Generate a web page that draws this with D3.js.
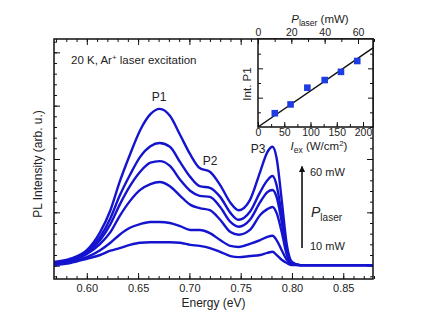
<!DOCTYPE html>
<html>
<head>
<meta charset="utf-8">
<script src="https://cdn.jsdelivr.net/npm/d3@7"></script>
<style>
  body { margin: 0; background: #fff; }
  svg text { font-family: "Liberation Sans", Arial, sans-serif; fill: #222; }
</style>
</head>
<body>
<div id="chart"></div>
<script>
// photon energy (eV) sampled along the spectra
const energy = [0.568, 0.584, 0.600, 0.613, 0.623, 0.632, 0.642, 0.652, 0.662, 0.671,
  0.681, 0.691, 0.701, 0.710, 0.720, 0.730, 0.740, 0.748, 0.759, 0.769,
  0.776, 0.781, 0.785, 0.790, 0.795, 0.800, 0.808, 0.879]

// PL intensity (arb. u.) for each laser power, 60 mW down to 10 mW
const pl60 = [0.07, 0.13, 0.29, 0.63, 1.04, 1.57, 2.08, 2.54, 2.84, 2.94, 2.81, 2.45, 2.08, 1.83,
  1.76, 1.51, 1.18, 1.04, 1.23, 1.76, 2.13, 2.23, 2.02, 1.23, 0.39, 0.07, 0.01, 0.01]
const pl50 = [0.05, 0.11, 0.26, 0.54, 0.89, 1.31, 1.70, 2.04, 2.24, 2.30, 2.23, 1.94, 1.66, 1.49,
  1.46, 1.29, 0.99, 0.86, 1.01, 1.38, 1.60, 1.68, 1.51, 0.95, 0.29, 0.05, 0.01, 0.01]
const pl40 = [0.05, 0.11, 0.24, 0.48, 0.78, 1.14, 1.49, 1.76, 1.93, 1.96, 1.87, 1.61, 1.40, 1.31,
  1.29, 1.10, 0.82, 0.73, 0.86, 1.19, 1.38, 1.42, 1.29, 0.82, 0.26, 0.05, 0.01, 0.01]
const pl30 = [0.03, 0.09, 0.22, 0.41, 0.63, 0.93, 1.21, 1.42, 1.53, 1.57, 1.49, 1.31, 1.14, 1.08,
  1.04, 0.86, 0.63, 0.58, 0.67, 0.95, 1.06, 1.10, 0.99, 0.63, 0.20, 0.03, 0.01, 0.01]
const pl20 = [0.03, 0.07, 0.16, 0.29, 0.43, 0.58, 0.71, 0.78, 0.82, 0.82, 0.80, 0.74, 0.67, 0.67,
  0.61, 0.48, 0.37, 0.35, 0.41, 0.48, 0.54, 0.56, 0.48, 0.29, 0.11, 0.03, 0.01, 0.01]
const pl10 = [0.01, 0.05, 0.13, 0.20, 0.28, 0.33, 0.39, 0.43, 0.44, 0.44, 0.44, 0.43, 0.39, 0.37,
  0.33, 0.26, 0.18, 0.16, 0.18, 0.20, 0.24, 0.26, 0.20, 0.11, 0.05, 0.01, 0.01, 0.01]
const spectra = [pl60, pl50, pl40, pl30, pl20, pl10]

// inset: integrated P1 intensity vs excitation
const laserPower = [10, 20, 30, 40, 50, 60]            // mW
const excitation = [32, 62, 94, 127, 158, 189]         // W/cm2
const intP1 = [0.47, 0.77, 1.34, 1.60, 1.88, 2.25]

const energyTicks = [0.60, 0.65, 0.70, 0.75, 0.80, 0.85]
const exTicks = [0, 50, 100, 150, 200]
const powerTicks = [0, 20, 40, 60]

// ----------------------------------------------------------

const W = 427, H = 323
const pL = 54, pR = 373, pT = 39, pB = 279

const svg = d3.select("#chart").append("svg")
  .attr("width", W).attr("height", H)

const x = d3.scaleLinear().domain([0.568, 0.879]).range([pL, pR])
const y = d3.scaleLinear().domain([-0.25, 4.25]).range([pB, pT])

const blue = "#1414cf"

svg.append("clipPath").attr("id", "plotClip")
  .append("rect").attr("x", pL).attr("y", pT)
  .attr("width", pR - pL).attr("height", pB - pT)

// ticks (inward) on all four sides
function tickAxis(axis, tr, size, values, fmt, pad, fs) {
  const g = svg.append("g").attr("transform", tr)
    .call(axis.tickValues(values).tickSize(size).tickFormat(fmt).tickPadding(pad))
  g.select(".domain").remove()
  g.selectAll("line").attr("stroke", "#111").attr("stroke-width", 1)
  g.selectAll("text").attr("font-size", fs || 11).attr("fill", "#222")
  return g
}
const eMinor = d3.range(0.57, 0.88, 0.01).map(d => +d.toFixed(2))
const yMinor = d3.range(-0.2, 4.25, 0.2).map(d => +d.toFixed(1))
const yMajor = [0, 1, 2, 3, 4]

tickAxis(d3.axisBottom(x), `translate(0,${pB})`, -3, eMinor, "", 0)
tickAxis(d3.axisBottom(x), `translate(0,${pB})`, -6, energyTicks, d3.format(".2f"), 5)
tickAxis(d3.axisTop(x), `translate(0,${pT})`, -3, eMinor, "", 0)
tickAxis(d3.axisTop(x), `translate(0,${pT})`, -6, energyTicks, "", 0)
tickAxis(d3.axisLeft(y), `translate(${pL},0)`, -3, yMinor, "", 0)
tickAxis(d3.axisLeft(y), `translate(${pL},0)`, -6, yMajor, "", 0)
tickAxis(d3.axisRight(y), `translate(${pR},0)`, -3, yMinor, "", 0)
tickAxis(d3.axisRight(y), `translate(${pR},0)`, -6, yMajor, "", 0)

// spectra
const line = d3.line()
  .x((d, i) => x(energy[i]))
  .y(d => y(d))
  .curve(d3.curveMonotoneX)

svg.append("g").attr("clip-path", "url(#plotClip)")
  .selectAll("path").data(spectra).enter()
  .append("path")
  .attr("d", line)
  .attr("fill", "none")
  .attr("stroke", blue)
  .attr("stroke-width", 2.4)
  .attr("stroke-linejoin", "round")

svg.append("rect").attr("x", pL).attr("y", pT)
  .attr("width", pR - pL).attr("height", pB - pT)
  .attr("fill", "none").attr("stroke", "#111").attr("stroke-width", 1.5)

// labels
svg.append("text").attr("x", 71).attr("y", 64).attr("font-size", 11.5)
  .html('20 K, Ar<tspan baseline-shift="super" font-size="8">+</tspan> laser excitation')
svg.append("text").attr("x", 159).attr("y", 101).attr("font-size", 12)
  .attr("text-anchor", "middle").text("P1")
svg.append("text").attr("x", 210).attr("y", 165).attr("font-size", 12)
  .attr("text-anchor", "middle").text("P2")
svg.append("text").attr("x", 258).attr("y", 153).attr("font-size", 12)
  .attr("text-anchor", "middle").text("P3")

svg.append("text").attr("x", (pL + pR) / 2).attr("y", 307)
  .attr("font-size", 12).attr("text-anchor", "middle").text("Energy (eV)")
svg.append("text").attr("transform", "translate(42,164) rotate(-90)")
  .attr("font-size", 12).attr("text-anchor", "middle").text("PL Intensity (arb. u.)")

// power arrow
svg.append("defs").append("marker").attr("id", "head")
  .attr("viewBox", "0 0 10 10").attr("refX", 9).attr("refY", 5)
  .attr("markerWidth", 4).attr("markerHeight", 5).attr("orient", "auto")
  .append("path").attr("d", "M0,0 L10,5 L0,10 z").attr("fill", "#111")
svg.append("line")
  .attr("x1", x(0.8098)).attr("x2", x(0.8098))
  .attr("y1", y(0.33)).attr("y2", y(1.86))
  .attr("stroke", "#111").attr("stroke-width", 1.6)
  .attr("marker-end", "url(#head)")
svg.append("text").attr("x", 310).attr("y", 176).attr("font-size", 11).text("60 mW")
svg.append("text").attr("x", 310).attr("y", 250).attr("font-size", 11).text("10 mW")
svg.append("text").attr("x", 311).attr("y", 217).attr("font-size", 14)
  .html('<tspan font-style="italic">P</tspan><tspan font-size="10" dy="4">laser</tspan>')

// ---------------- inset ----------------
const iL = 258, iR = 373, iT = 39, iB = 127
const ix = d3.scaleLinear().domain([0, 219]).range([iL, iR])
const ip = d3.scaleLinear().domain([0, 69]).range([iL, iR])
const iy = d3.scaleLinear().domain([0, 3]).range([iB, iT])

svg.append("rect").attr("x", iL).attr("y", iT)
  .attr("width", iR - iL).attr("height", iB - iT).attr("fill", "#fff")

tickAxis(d3.axisBottom(ix), `translate(0,${iB})`, -3, d3.range(0, 219, 25), "", 0)
tickAxis(d3.axisBottom(ix), `translate(0,${iB})`, -5, exTicks, d3.format("d"), 2, 10.5)
tickAxis(d3.axisTop(ip), `translate(0,${iT})`, -3, d3.range(0, 69, 10), "", 0)
tickAxis(d3.axisTop(ip), `translate(0,${iT})`, -5, powerTicks, d3.format("d"), 3, 10.5)
tickAxis(d3.axisLeft(iy), `translate(${iL},0)`, -3, [0.5, 1.5, 2.5], "", 0)
tickAxis(d3.axisLeft(iy), `translate(${iL},0)`, -5, [1, 2], "", 0)
tickAxis(d3.axisRight(iy), `translate(${iR},0)`, -3, [0.5, 1.5, 2.5], "", 0)
tickAxis(d3.axisRight(iy), `translate(${iR},0)`, -5, [1, 2], "", 0)

// least-squares line through origin
const slope = d3.sum(excitation, (d, i) => d * intP1[i]) / d3.sum(excitation, d => d * d)
const fitX = ix.domain()
svg.append("line")
  .attr("x1", ix(fitX[0])).attr("y1", iy(slope * fitX[0]))
  .attr("x2", ix(fitX[1])).attr("y2", iy(slope * fitX[1]))
  .attr("stroke", "#111").attr("stroke-width", 1.5)

svg.selectAll("rect.pt").data(excitation).enter()
  .append("rect").attr("class", "pt")
  .attr("x", d => ix(d) - 3.3)
  .attr("y", (d, i) => iy(intP1[i]) - 3.3)
  .attr("width", 6.6).attr("height", 6.6)
  .attr("fill", "#1e3de0")

svg.append("rect").attr("x", iL).attr("y", iT)
  .attr("width", iR - iL).attr("height", iB - iT)
  .attr("fill", "none").attr("stroke", "#111").attr("stroke-width", 1.5)

svg.append("text").attr("transform", "translate(251,84) rotate(-90)")
  .attr("font-size", 11.5).attr("text-anchor", "middle").text("Int. P1")
svg.append("text").attr("x", 320).attr("y", 23).attr("font-size", 11.5)
  .attr("text-anchor", "middle")
  .html('<tspan font-style="italic">P</tspan><tspan font-size="8.5" dy="3">laser</tspan><tspan dy="-3"> (mW)</tspan>')
svg.append("text").attr("x", 319).attr("y", 150).attr("font-size", 11.5)
  .attr("text-anchor", "middle")
  .html('<tspan font-style="italic">I</tspan><tspan font-size="8.5" dy="3">ex</tspan><tspan dy="-3"> (W/cm</tspan><tspan font-size="8" dy="-4">2</tspan><tspan dy="4">)</tspan>')
</script>
</body>
</html>
